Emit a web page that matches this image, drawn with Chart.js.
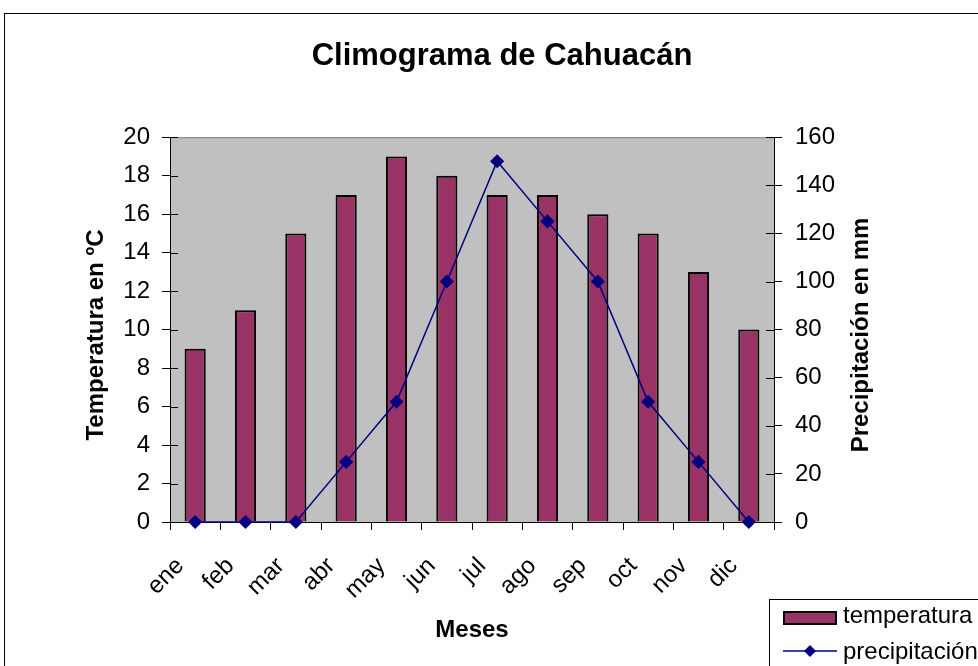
<!DOCTYPE html>
<html>
<head>
<meta charset="utf-8">
<title>Climograma de Cahuacán</title>
<script src="https://cdn.jsdelivr.net/npm/chart.js@4"></script>
<style>
  html, body { margin: 0; padding: 0; background: #fff; overflow: hidden; }
  #wrap { width: 978px; height: 666px; overflow: hidden; }
</style>
</head>
<body>
<div id="wrap"><canvas id="climograma" width="1004" height="666"></canvas></div>
<script>
// datos del climograma
const meses = ['ene', 'feb', 'mar', 'abr', 'may', 'jun', 'jul', 'ago', 'sep', 'oct', 'nov', 'dic'];
const temperatura = [9, 11, 15, 17, 19, 18, 17, 17, 16, 15, 13, 10];
const precipitacion = [0, 0, 0, 25, 50, 100, 150, 125, 100, 50, 25, 0];

const FONT = 'Arial, "Liberation Sans", sans-serif';
const BAR_COLOR = '#993366';
const LINE_COLOR = '#000080';

// fondo gris del area de trazado, marco exterior y marcas interiores de los ejes
const plotBackground = {
  id: 'plotBackground',
  beforeDraw(chart) {
    const { ctx, chartArea: a } = chart;
    ctx.save();
    ctx.fillStyle = '#fff';
    ctx.fillRect(0, 0, chart.width, chart.height);
    ctx.strokeStyle = '#000';
    ctx.lineWidth = 1;
    ctx.strokeRect(4.5, 13.5, chart.width, chart.height);
    ctx.fillStyle = '#c0c0c0';
    ctx.fillRect(a.left, a.top, a.right - a.left, a.bottom - a.top);
    ctx.strokeStyle = '#808080';
    ctx.beginPath();
    ctx.moveTo(a.left, a.top + 0.5);
    ctx.lineTo(a.right, a.top + 0.5);
    ctx.stroke();
    ctx.restore();
  },
  afterDatasetsDraw(chart) {
    const { ctx, chartArea: a, scales } = chart;
    ctx.save();
    ctx.strokeStyle = '#000';
    ctx.lineWidth = 1;
    ctx.beginPath();
    scales.y.ticks.forEach(t => {
      const py = Math.round(scales.y.getPixelForValue(t.value)) + 0.5;
      ctx.moveTo(a.left, py); ctx.lineTo(a.left + 8, py);
    });
    scales.y1.ticks.forEach(t => {
      const py = Math.round(scales.y1.getPixelForValue(t.value)) + 0.5;
      ctx.moveTo(a.right - 8, py); ctx.lineTo(a.right, py);
    });
    ctx.stroke();
    ctx.restore();
  }
};

// titulos de los ejes verticales, los dos leidos de abajo arriba
const axisTitles = {
  id: 'axisTitles',
  afterDraw(chart) {
    const { ctx } = chart;
    const items = [
      [chart.options.scales.y.title.text, 96],
      [chart.options.scales.y1.title.text, 861]
    ];
    ctx.save();
    ctx.fillStyle = '#000';
    ctx.font = 'bold 24px ' + FONT;
    ctx.textAlign = 'center';
    ctx.textBaseline = 'middle';
    items.forEach(([text, x]) => {
      ctx.save();
      ctx.translate(x, 335);
      ctx.rotate(-Math.PI / 2);
      ctx.fillText(text, 0, 0);
      ctx.restore();
    });
    ctx.restore();
  }
};

// leyenda en la esquina inferior derecha
const boxLegend = {
  id: 'boxLegend',
  afterDraw(chart) {
    const { ctx } = chart;
    const [bars, line] = chart.data.datasets;
    ctx.save();
    ctx.fillStyle = '#fff';
    ctx.fillRect(769, 599, 260, 100);
    ctx.strokeStyle = '#000';
    ctx.lineWidth = 1;
    ctx.strokeRect(769.5, 599.5, 260, 100);

    ctx.fillStyle = bars.backgroundColor;
    ctx.fillRect(783, 611, 54, 14);
    ctx.lineWidth = 2;
    ctx.strokeRect(784, 612, 52, 12);

    ctx.strokeStyle = line.borderColor;
    ctx.lineWidth = 1.5;
    ctx.beginPath();
    ctx.moveTo(783, 651); ctx.lineTo(837, 651);
    ctx.stroke();
    ctx.fillStyle = line.borderColor;
    ctx.beginPath();
    ctx.moveTo(810, 645); ctx.lineTo(816, 651); ctx.lineTo(810, 657); ctx.lineTo(804, 651);
    ctx.closePath();
    ctx.fill();

    ctx.fillStyle = '#000';
    ctx.font = '24px ' + FONT;
    ctx.textBaseline = 'alphabetic';
    ctx.fillText(bars.label, 843, 623);
    ctx.fillText(line.label, 843, 659);
    ctx.restore();
  }
};

new Chart(document.getElementById('climograma'), {
  data: {
    labels: meses,
    datasets: [
      {
        type: 'bar',
        label: 'temperatura',
        data: temperatura,
        yAxisID: 'y',
        backgroundColor: BAR_COLOR,
        borderColor: '#000',
        borderWidth: 2,
        barPercentage: 0.42,
        categoryPercentage: 1,
        order: 2
      },
      {
        type: 'line',
        label: 'precipitación',
        data: precipitacion,
        yAxisID: 'y1',
        borderColor: LINE_COLOR,
        backgroundColor: LINE_COLOR,
        borderWidth: 1.5,
        pointStyle: 'rectRot',
        pointRadius: 6,
        pointBackgroundColor: LINE_COLOR,
        pointBorderColor: LINE_COLOR,
        tension: 0,
        clip: false,
        order: 1
      }
    ]
  },
  options: {
    responsive: false,
    animation: false,
    layout: { padding: 0 },
    plugins: {
      legend: { display: false },
      tooltip: { enabled: false },
      title: {
        display: true,
        text: 'Climograma de Cahuacán',
        color: '#000',
        font: { family: FONT, size: 31, weight: 'bold', lineHeight: 1.2 },
        padding: { top: 38, bottom: 62 }
      }
    },
    scales: {
      x: {
        offset: true,
        afterFit: s => { s.height = 144; },
        grid: { offset: true, drawOnChartArea: false, tickLength: 8, color: '#000' },
        border: { display: true, color: '#000', width: 1 },
        ticks: {
          color: '#000', maxRotation: 45, minRotation: 45, padding: 22, labelOffset: -15,
          font: { family: FONT, size: 24 }
        },
        title: {
          display: true, text: 'Meses', color: '#000',
          font: { family: FONT, size: 24, weight: 'bold', lineHeight: 1.2 },
          padding: { top: 0, bottom: 21 }
        }
      },
      y: {
        position: 'left',
        min: 0, max: 20,
        afterFit: s => { s.width = 170; },
        grid: { drawOnChartArea: false, tickLength: 8, color: '#000' },
        border: { display: true, color: '#000', width: 1 },
        ticks: {
          stepSize: 2, color: '#000', padding: 12,
          font: { family: FONT, size: 24 }
        },
        title: { display: false, text: 'Temperatura en ºC' }
      },
      y1: {
        position: 'right',
        min: 0, max: 160,
        afterFit: s => { s.width = 230; },
        grid: { drawOnChartArea: false, tickLength: 8, color: '#000' },
        border: { display: true, color: '#000', width: 1 },
        ticks: {
          stepSize: 20, color: '#000', padding: 13,
          font: { family: FONT, size: 24 }
        },
        title: { display: false, text: 'Precipitación en mm' }
      }
    }
  },
  plugins: [plotBackground, axisTitles, boxLegend]
});
</script>
</body>
</html>
